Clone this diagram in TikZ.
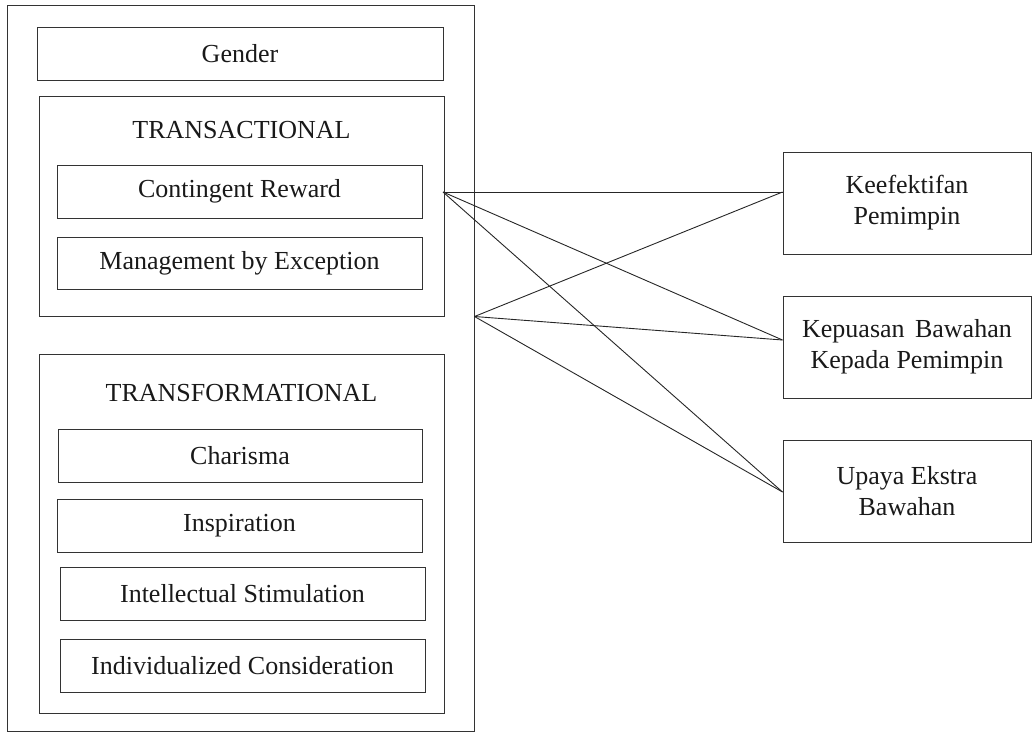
\documentclass[tikz,border=0pt]{standalone}
\usepackage{fontspec}
\setmainfont{Liberation Serif}
\newfontfamily\diagfont{Liberation Serif}
\begin{document}
\begin{tikzpicture}[x=1pt,y=-1pt,
  every node/.style={font=\diagfont\fontsize{26}{31}\selectfont, text=black!90},
  box/.style={draw=black!80, line width=1pt, rectangle, inner sep=0pt, align=center},
  link/.style={draw=black!85, line width=0.9pt}
]
\useasboundingbox (0,0) rectangle (1034,734);

% outer frame
\node[box, minimum width=467pt, minimum height=726pt] (outer) at (240.5,368) {};
\node[box, minimum width=406pt, minimum height=53pt] (gender) at (240,53.5) {Gender};

% transactional group
\node[box, minimum width=405pt, minimum height=220pt] (tsa) at (241.5,206) {};
\node (tsalabel) at (241.5,130) {TRANSACTIONAL};
\node[box, minimum width=365pt, minimum height=53pt] (cr) at (239.5,191.5) {Contingent Reward};
\node[box, minimum width=365pt, minimum height=52pt] (mbe) at (239.5,263) {Management by Exception};

% transformational group
\node[box, minimum width=405pt, minimum height=359pt] (tsf) at (241.5,533.5) {};
\node (tsflabel) at (241.5,393) {TRANSFORMATIONAL};
\node[box, minimum width=364pt, minimum height=53pt] (cha) at (240,455.5) {Charisma};
\node[box, minimum width=365pt, minimum height=53pt] (ins) at (239.5,525.5) {Inspiration};
\node[box, minimum width=365pt, minimum height=53pt] (ist) at (242.5,593.5) {Intellectual Stimulation};
\node[box, minimum width=365pt, minimum height=53pt] (ic) at (242.5,665.5) {Individualized Consideration};

% outcomes
\node[box, minimum width=248pt, minimum height=102pt] (keef) at (907,203) {Keefektifan\\Pemimpin};
\node[box, minimum width=248pt, minimum height=102pt] (kep) at (907,347) {Kepuasan\hspace{0.4em}Bawahan\\Kepada Pemimpin};
\node[box, minimum width=248pt, minimum height=102pt] (upa) at (907,491) {Upaya Ekstra\\Bawahan};

% connector ends
\coordinate (srcA) at (443,192);
\coordinate (srcB) at (outer.east |- tsa.south);
\coordinate (dK) at (keef.west |- srcA);
\coordinate (dP) at ([yshift=7pt]kep.west);
\coordinate (dU) at ([yshift=-1pt]upa.west);

\draw[link] (srcA) -- (dK);
\draw[link] (srcA) -- (dP);
\draw[link] (srcA) -- (dU);
\draw[link] (srcB) -- (dK);
\draw[link] (srcB) -- (dP);
\draw[link] (srcB) -- (dU);
\end{tikzpicture}
\end{document}
